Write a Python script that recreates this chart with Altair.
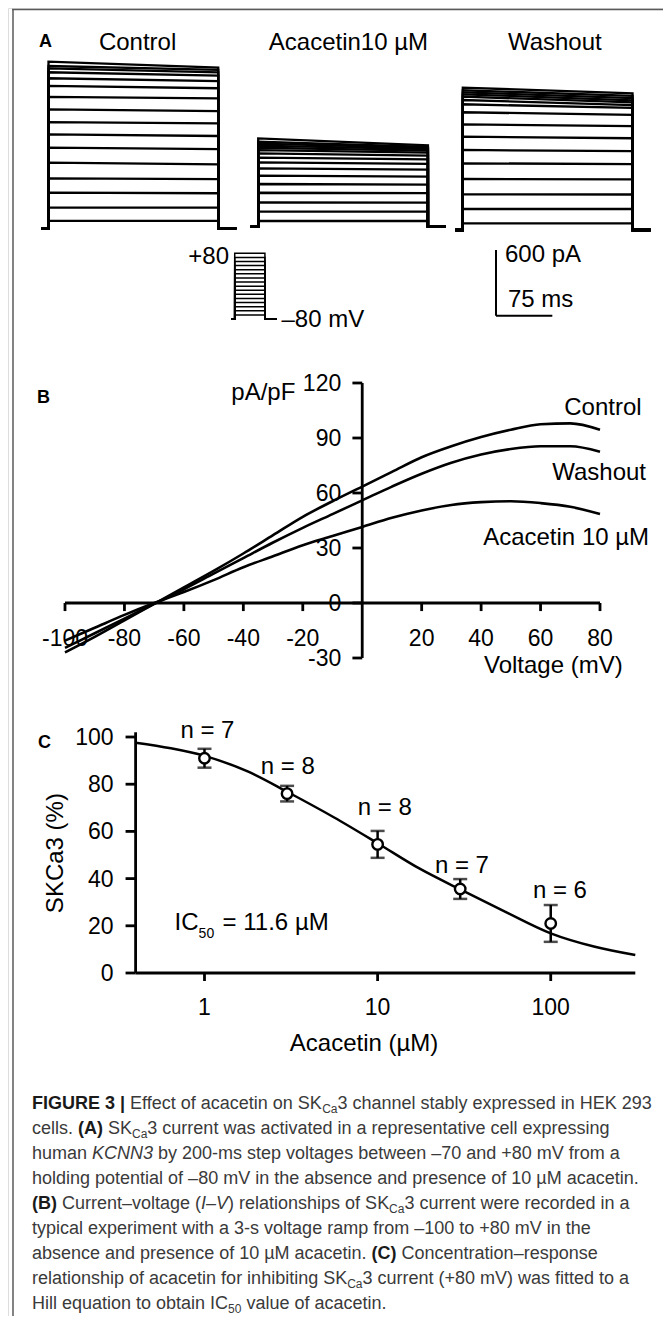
import altair as alt
import pandas as pd

M = 8  # page margin (px)
FONT = "Liberation Sans"

# ---------------- Panel A: step currents (pA) ----------------
step_mv = [-70, -60, -50, -40, -30, -20, -10, 0, 10, 20, 30, 40, 50, 60, 70, 80]
ctrl_start = [67, 188, 326, 456, 600, 737, 858, 970, 1086, 1200, 1300, 1370, 1425, 1461, 1482, 1522]
ctrl_end = [67, 188, 320, 450, 584, 724, 843, 959, 1071, 1187, 1279, 1345, 1394, 1425, 1446, 1467]
acac_start = [52, 137, 222, 310, 390, 466, 533, 587, 630, 670, 700, 721, 740, 758, 776, 807]
acac_end = [52, 137, 220, 306, 384, 458, 522, 574, 614, 650, 676, 694, 708, 720, 730, 742]
wash_start = [61, 192, 326, 466, 609, 731, 852, 965, 1075, 1148, 1187, 1218, 1239, 1257, 1276, 1300]
wash_end = [61, 192, 324, 462, 602, 720, 838, 948, 1052, 1115, 1140, 1165, 1185, 1205, 1225, 1248]
pulse_ms = [-10, 0, 226, 250]          # trace start, step on, step off, trace end
proto_ms = [-20, 0, 200, 280]
hold_mv = -80
bar_ms = 75
bar_pa = 600
titles_a = ["Control", "Acacetin10 \u00b5M", "Washout"]

# ---------------- Panel B: I-V relationship (pA/pF) ----------------
iv_mv = [-100, -90, -80, -70, -60, -50, -40, -30, -20, -10, 0, 10, 20, 30, 40, 50, 60, 70, 80]
iv_control = [-27, -18.5, -9.5, -0.5, 8.5, 17.5, 27, 37, 47, 55.5, 63.5, 71.5, 79.5, 85.5, 90.5, 94.5, 97.5, 98, 94.5]
iv_washout = [-24.5, -16.5, -8.5, -0.5, 7.5, 16, 24.5, 33, 41, 48.5, 56, 63.5, 70.5, 76.5, 81, 84, 85.5, 85.5, 82.5]
iv_acacetin = [-20.5, -13.5, -6.5, 0, 6, 12.5, 19.5, 25.5, 31.5, 36.5, 41.5, 46.5, 50.5, 53.5, 55, 55.5, 54.5, 52.5, 48.5]
b_xticks = [-100, -80, -60, -40, -20, 20, 40, 60, 80]
b_yticks = [-30, 0, 30, 60, 90, 120]

# ---------------- Panel C: concentration-response ----------------
conc = [1, 3, 10, 30, 100]
resp = [91, 76, 54.5, 35.6, 21]
sem = [4, 3.3, 5.7, 4.2, 7.8]
n_cells = [7, 8, 8, 7, 6]
fit_conc = [0.4, 0.64, 1, 1.79, 3, 5.58, 10, 17.4, 30, 54.4, 100, 180, 308]
fit_resp = [97.6, 95.2, 92, 85.3, 76.8, 66, 55, 44.3, 35.4, 26, 16.8, 11.1, 7.6]
c_xticks = [1, 10, 100]
c_yticks = [0, 20, 40, 60, 80, 100]


def P(v):
    return v - M


def lin(domain, rng):
    return alt.Scale(type="linear", domain=domain, range=rng, nice=False, zero=False)


def logs(domain, rng):
    return alt.Scale(type="log", domain=domain, range=rng, nice=False)


def rules(rows, xs, ys, **mk):
    df = pd.DataFrame(rows, columns=["x", "y", "x2", "y2"])
    return alt.Chart(df).mark_rule(**mk).encode(
        x=alt.X("x:Q", scale=xs, axis=None), y=alt.Y("y:Q", scale=ys, axis=None),
        x2="x2:Q", y2="y2:Q")


def dtext(rows, xs, ys, **mk):
    df = pd.DataFrame(rows, columns=["x", "y", "t"])
    return alt.Chart(df).mark_text(font=FONT, **mk).encode(
        x=alt.X("x:Q", scale=xs, axis=None), y=alt.Y("y:Q", scale=ys, axis=None), text="t:N")


def ptext(rows, **mk):
    df = pd.DataFrame([(P(x), P(y), t) for x, y, t in rows], columns=["x", "y", "t"])
    return alt.Chart(df).mark_text(font=FONT, **mk).encode(
        x=alt.X("x:Q", scale=None, axis=None), y=alt.Y("y:Q", scale=None, axis=None), text="t:N")


H = 1308
layers = []

# ---------- frame ----------
dummy = pd.DataFrame({"a": [0]})
layers.append(alt.Chart(dummy).mark_rule(color="#5a5a5a", strokeWidth=1.5).encode(
    x=alt.value(4), x2=alt.value(663), y=alt.value(1.5)))
layers.append(alt.Chart(dummy).mark_rule(color="#5a5a5a", strokeWidth=1.5).encode(
    x=alt.value(5), y=alt.value(1), y2=alt.value(H)))

# ---------- Panel A ----------
PX_MS = 0.751
PX_PA = 0.1095
span = (pulse_ms[3] - pulse_ms[0]) * PX_MS
placement = [(ctrl_start, ctrl_end, 41.0, 228.3),
             (acac_start, acac_end, 250.7, 226.7),
             (wash_start, wash_end, 455.3, 230.0)]
for starts, ends, left, base in placement:
    rows = []
    for mv, a, b in zip(step_mv, starts, ends):
        pts = [(pulse_ms[0], 0), (pulse_ms[1], 0), (pulse_ms[1], a),
               (pulse_ms[2], b), (pulse_ms[2], 0), (pulse_ms[3], 0)]
        for o, (t, i) in enumerate(pts):
            rows.append({"mv": mv, "o": o, "t": t, "i": i})
    df = pd.DataFrame(rows)
    xs = lin([pulse_ms[0], pulse_ms[3]], [P(left), P(left) + span])
    ys = lin([0, 1600], [P(base), P(base) - 1600 * PX_PA])
    layers.append(alt.Chart(df).mark_line(color="black", strokeWidth=2.3).encode(
        x=alt.X("t:Q", scale=xs, axis=None), y=alt.Y("i:Q", scale=ys, axis=None),
        detail="mv:N", order="o:Q"))

# voltage protocol
prow = []
for mv in step_mv:
    pts = [(proto_ms[0], hold_mv), (proto_ms[1], hold_mv), (proto_ms[1], mv),
           (proto_ms[2], mv), (proto_ms[2], hold_mv), (proto_ms[3], hold_mv)]
    for o, (t, v) in enumerate(pts):
        prow.append({"mv": mv, "o": o, "t": t, "v": v})
pxs = lin([proto_ms[0], proto_ms[3]], [P(231.7), P(277)])
pys = lin([-80, 80], [P(319), P(253.3)])
layers.append(alt.Chart(pd.DataFrame(prow)).mark_line(color="black", strokeWidth=1.5).encode(
    x=alt.X("t:Q", scale=pxs, axis=None), y=alt.Y("v:Q", scale=pys, axis=None),
    detail="mv:N", order="o:Q"))

# scale bar
sxs = lin([0, bar_ms], [P(496), P(496) + bar_ms * PX_MS])
sys_ = lin([0, bar_pa], [P(315.7), P(315.7) - bar_pa * PX_PA])
layers.append(rules([(0, 0, 0, bar_pa), (0, 0, bar_ms, 0)], sxs, sys_, color="black", strokeWidth=2))

layers.append(ptext([(137.6, 50, titles_a[0]), (348.4, 50, titles_a[1]), (554.8, 50, titles_a[2])],
                    fontSize=24, align="center", baseline="alphabetic", color="black"))
layers.append(ptext([(229, 264, "+80")], fontSize=24, align="right", baseline="alphabetic", color="black"))
layers.append(ptext([(281.5, 327, "\u201380 mV"), (505, 261.5, "600 pA"), (508, 306.5, "75 ms")],
                    fontSize=24, align="left", baseline="alphabetic", color="black"))
layers.append(ptext([(39, 47, "A"), (37, 403, "B"), (38, 748, "C")],
                    fontSize=18, fontWeight="bold", align="left", baseline="alphabetic", color="black"))

# ---------- Panel B ----------
xB = lin([-100, 80], [P(65), P(600)])
yB = lin([-30, 120], [P(658), P(383)])
ivdf = pd.DataFrame({
    "mv": iv_mv * 3,
    "v": iv_control + iv_washout + iv_acacetin,
    "s": ["Control"] * len(iv_mv) + ["Washout"] * len(iv_mv) + ["Acacetin"] * len(iv_mv),
})
layers.append(alt.Chart(ivdf).mark_line(color="black", strokeWidth=2.6, interpolate="monotone").encode(
    x=alt.X("mv:Q", scale=xB, axis=None), y=alt.Y("v:Q", scale=yB, axis=None), detail="s:N"))
b_axes = [(iv_mv[0], 0, iv_mv[-1], 0), (0, b_yticks[0], 0, b_yticks[-1])]
b_axes += [(v, 0, v, -4.4) for v in b_xticks]
b_axes += [(0, v, -3.3, v) for v in b_yticks]
layers.append(rules(b_axes, xB, yB, color="black", strokeWidth=2.8))
layers.append(dtext([(v, 0, str(v)) for v in b_xticks], xB, yB, fontSize=23, align="center",
                    baseline="alphabetic", dy=43, color="black"))
layers.append(dtext([(0, v, str(v)) for v in b_yticks], xB, yB, fontSize=23, align="right",
                    baseline="middle", dx=-21, dy=1, color="black"))
layers.append(dtext([(-22.5, 110.7, "pA/pF")], xB, yB, fontSize=24, align="right",
                    baseline="alphabetic", color="black"))
layers.append(dtext([(81, 102.6, "Control"), (79.7, 67.1, "Washout"),
                     (68.6, 31.6, "Acacetin 10 \u00b5M"), (64.3, -38.2, "Voltage (mV)")],
                    xB, yB, fontSize=24, align="center", baseline="alphabetic", color="black"))

# ---------- Panel C ----------
xC = logs([0.4, 308], [P(135.6), P(635.3)])
yC = lin([0, 100], [P(973), P(737)])
fitdf = pd.DataFrame({"c": fit_conc, "r": fit_resp})
layers.append(alt.Chart(fitdf).mark_line(color="black", strokeWidth=2.5, interpolate="monotone").encode(
    x=alt.X("c:Q", scale=xC, axis=None), y=alt.Y("r:Q", scale=yC, axis=None)))
c_axes = [(0.4, 0, 308, 0), (0.4, 0, 0.4, 102)]
c_axes += [(v, 0, v, -3.4) for v in c_xticks]
c_axes += [(0.4, v, 0.35, v) for v in c_yticks]
layers.append(rules(c_axes, xC, yC, color="black", strokeWidth=2.8))
ptdf = pd.DataFrame({"c": conc, "r": resp, "lo": [r - e for r, e in zip(resp, sem)],
                     "hi": [r + e for r, e in zip(resp, sem)]})
layers.append(alt.Chart(ptdf).mark_rule(color="black", strokeWidth=2.5).encode(
    x=alt.X("c:Q", scale=xC, axis=None), y=alt.Y("lo:Q", scale=yC, axis=None), y2="hi:Q"))
for col in ["lo", "hi"]:
    layers.append(alt.Chart(ptdf).mark_tick(color="black", orient="horizontal", size=14, thickness=2.5).encode(
        x=alt.X("c:Q", scale=xC, axis=None), y=alt.Y(f"{col}:Q", scale=yC, axis=None)))
layers.append(alt.Chart(ptdf).mark_point(shape="circle", size=110, filled=True, fill="white",
                                         stroke="black", strokeWidth=2.4, opacity=1).encode(
    x=alt.X("c:Q", scale=xC, axis=None), y=alt.Y("r:Q", scale=yC, axis=None)))
layers.append(dtext([(v, 0, str(v)) for v in c_xticks], xC, yC, fontSize=23, align="center",
                    baseline="alphabetic", dy=42, color="black"))
layers.append(dtext([(0.4, v, str(v)) for v in c_yticks], xC, yC, fontSize=23, align="right",
                    baseline="middle", dx=-22, dy=1, color="black"))
n_pos = [(1.04, 99.6), (3.03, 84.3), (11.0, 66.9), (30.7, 42.4), (113, 31.8)]
layers.append(dtext([(x, y, f"n = {n}") for (x, y), n in zip(n_pos, n_cells)], xC, yC,
                    fontSize=24, align="center", baseline="alphabetic", color="black"))
layers.append(dtext([(8.35, -33, "Acacetin (\u00b5M)")], xC, yC, fontSize=24, align="center",
                    baseline="alphabetic", color="black"))
layers.append(dtext([(0.1389, 50.8, "SKCa3 (%)")], xC, yC, fontSize=24, align="center",
                    baseline="middle", angle=270, color="black"))
ic_x, ic_y = 0.672, 18.4
layers.append(dtext([(ic_x, ic_y, "IC")], xC, yC, fontSize=24, align="left", baseline="alphabetic", color="black"))
layers.append(dtext([(ic_x, ic_y, "50")], xC, yC, fontSize=14, align="left", baseline="alphabetic",
                    dx=24, dy=8, color="black"))
layers.append(dtext([(ic_x, ic_y, "= 11.6 \u00b5M")], xC, yC, fontSize=24, align="left",
                    baseline="alphabetic", dx=48, color="black"))

# ---------- Caption ----------
W_R = {" ": 278, "(": 333, ")": 333, "+": 584, ",": 278, "-": 333, ".": 278, "|": 260,
       "\u2013": 556, "\u00b5": 577, "=": 584, "%": 889}
for ch in "0123456789":
    W_R[ch] = 556
W_R.update(dict(zip("ABCDEFGHIJKLMNOPQRSTUVWXYZ",
                    [667, 667, 722, 722, 667, 611, 778, 722, 278, 500, 667, 556, 833, 722, 778, 667,
                     778, 722, 667, 611, 722, 667, 944, 667, 667, 611])))
W_R.update(dict(zip("abcdefghijklmnopqrstuvwxyz",
                    [556, 556, 500, 556, 556, 278, 556, 556, 222, 222, 500, 222, 833, 556, 556, 556,
                     556, 333, 500, 278, 556, 500, 722, 500, 500, 500])))
W_B = dict(W_R)
W_B.update({"A": 722, "B": 722, "C": 722, "|": 280, "R": 722, "U": 722, "G": 778})


def tw(s, size, bold=False):
    tab = W_B if bold else W_R
    return sum(tab.get(ch, 556) for ch in s) * size / 1000.0


caption = [
    [("FIGURE 3 |", "b"), (" Effect of acacetin on SK", "r"), ("Ca", "s"), ("3 channel stably expressed in HEK 293", "r")],
    [("cells. ", "r"), ("(A)", "b"), (" SK", "r"), ("Ca", "s"), ("3 current was activated in a representative cell expressing", "r")],
    [("human ", "r"), ("KCNN3", "i"), (" by 200-ms step voltages between \u201370 and +80 mV from a", "r")],
    [("holding potential of \u201380 mV in the absence and presence of 10 \u00b5M acacetin.", "r")],
    [("(B)", "b"), (" Current\u2013voltage (", "r"), ("I\u2013V", "i"), (") relationships of SK", "r"), ("Ca", "s"), ("3 current were recorded in a", "r")],
    [("typical experiment with a 3-s voltage ramp from \u2013100 to +80 mV in the", "r")],
    [("absence and presence of 10 \u00b5M acacetin. ", "r"), ("(C)", "b"), (" Concentration\u2013response", "r")],
    [("relationship of acacetin for inhibiting SK", "r"), ("Ca", "s"), ("3 current (+80 mV) was fitted to a", "r")],
    [("Hill equation to obtain IC", "r"), ("50", "s"), (" value of acacetin.", "r")],
]
CAP = 18
SUB = 12
runs = {"r": [], "b": [], "i": [], "s": []}
for k, line in enumerate(caption):
    x = 32.0
    y = 1108.5 + 25.0 * k
    for text, st in line:
        size = SUB if st == "s" else CAP
        bold = st == "b"
        lead = len(text) - len(text.lstrip(" "))
        runs[st].append((x + tw(" " * lead, size, bold), y + (4 if st == "s" else 0), text.strip()))
        x += tw(text, size, bold)

layers.append(ptext(runs["r"], fontSize=CAP, align="left", baseline="alphabetic", color="#3a3a3a"))
layers.append(ptext(runs["b"], fontSize=CAP, fontWeight="bold", align="left", baseline="alphabetic", color="#1a1a1a"))
layers.append(ptext(runs["i"], fontSize=CAP, fontStyle="italic", align="left", baseline="alphabetic", color="#3a3a3a"))
layers.append(ptext(runs["s"], fontSize=SUB, align="left", baseline="alphabetic", color="#3a3a3a"))

chart = alt.layer(*layers).resolve_scale(x="independent", y="independent").properties(
    width=655, height=H, padding=0, autosize=alt.AutoSizeParams(type="none")
).configure_view(strokeWidth=0).configure(background="white")

chart.save("out.html", embed_options={"renderer": "svg", "actions": False})
